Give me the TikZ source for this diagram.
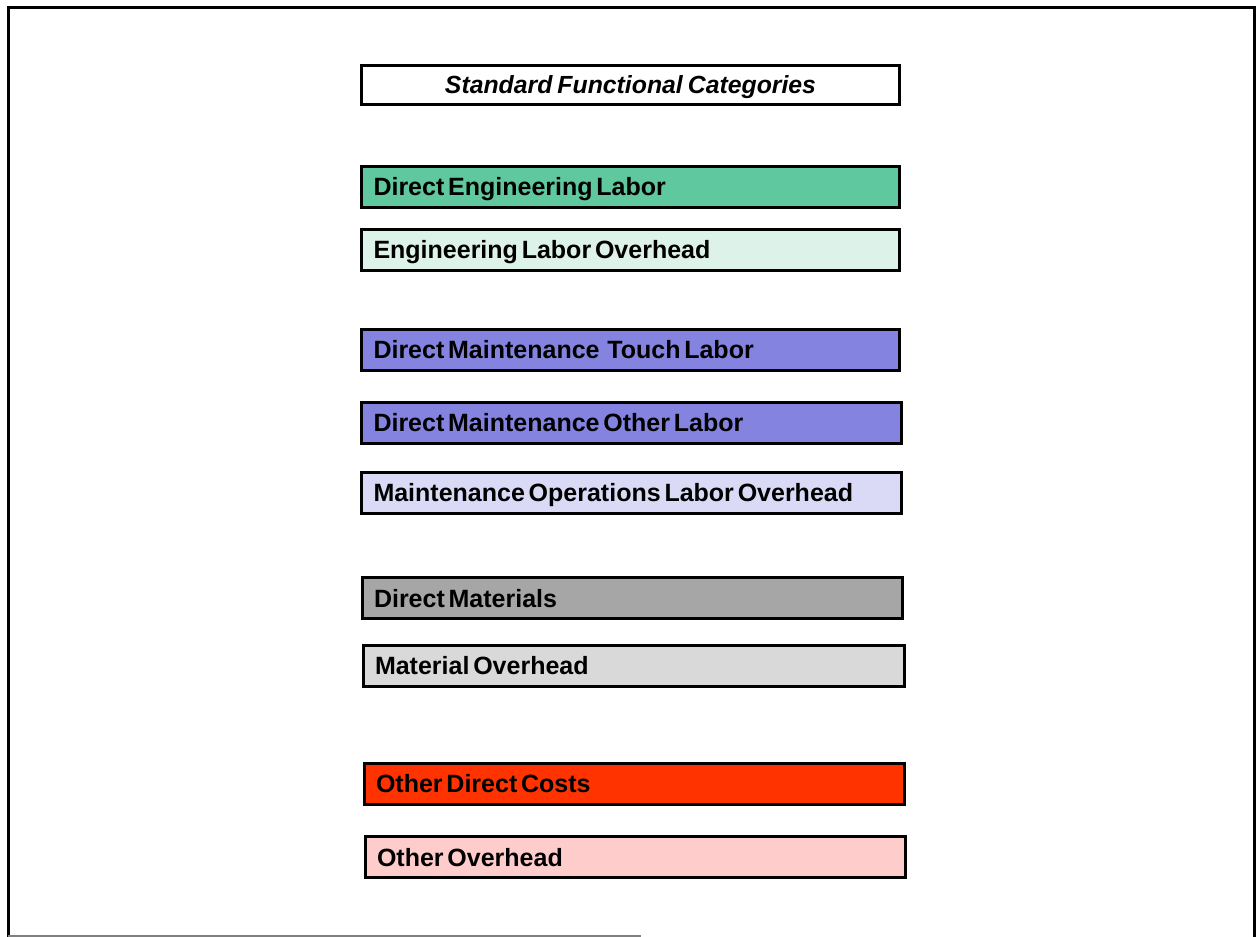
\documentclass[tikz,border=0pt]{standalone}
\usepackage{fontspec}
\newfontfamily\catfont{Liberation Sans}
\newcommand{\tightsp}{\spaceskip=3.8pt plus 1pt minus 1pt\relax}
\newcommand{\titlesp}{\spaceskip=5pt plus 1pt minus 1pt\relax}
\definecolor{cDEL}{RGB}{96,200,158}
\definecolor{cELO}{RGB}{221,242,232}
\definecolor{cDM}{RGB}{132,132,224}
\definecolor{cMOLO}{RGB}{218,218,246}
\definecolor{cMat}{RGB}{166,166,166}
\definecolor{cMO}{RGB}{217,217,217}
\definecolor{cODC}{RGB}{255,51,0}
\definecolor{cOO}{RGB}{255,204,204}
\tikzset{
  cat/.style={draw=black, line width=3pt, rectangle, minimum height=41pt,
    text width=#1, inner xsep=12pt, inner ysep=0pt, align=left, anchor=west,
    text height=18pt, text depth=0pt,
    font=\catfont\bfseries\fontsize{25}{28}\selectfont,
    execute at begin node={\tightsp}},
  titlebox/.style={draw=black, line width=3pt, rectangle, minimum height=39pt,
    minimum width=538pt, inner sep=0pt, anchor=west,
    text height=18pt, text depth=0pt,
    font=\catfont\bfseries\itshape\fontsize{24.8}{28}\selectfont,
    execute at begin node={\titlesp}},
  frame/.style={line width=3pt, black},
}
\begin{document}
\begin{tikzpicture}[x=1pt,y=-1pt]
\useasboundingbox (0,0) rectangle (1256,937);
\draw[frame] (8,938) -- (8,7.5) -- (1254,7.5) -- (1254,938);
\draw[gray, line width=1.5pt] (8,936) -- (641,936);
\node[titlebox] (title) at (360,84.5) {Standard Functional Categories};
\node[cat=514pt, fill=cDEL] (del) at (360,186.5) {Direct Engineering Labor};
\node[cat=514pt, fill=cELO] (elo) at (360,249.5) {Engineering Labor Overhead};
\node[cat=514pt, fill=cDM] (dmtl) at (360,349.5) {Direct Maintenance\hspace{4pt} Touch Labor};
\node[cat=516pt, fill=cDM] (dmol) at (360,422.5) {Direct Maintenance Other Labor};
\node[cat=516pt, fill=cMOLO] (molo) at (360,492.5) {Maintenance Operations Labor Overhead};
\node[cat=516pt, fill=cMat] (dm) at (360.5,598) {Direct Materials};
\node[cat=517pt, fill=cMO] (mo) at (361.5,665.5) {Material Overhead};
\node[cat=516pt, fill=cODC] (odc) at (362.5,783.5) {Other Direct Costs};
\node[cat=516pt, fill=cOO] (oo) at (363.5,857) {Other Overhead};
\end{tikzpicture}
\end{document}
